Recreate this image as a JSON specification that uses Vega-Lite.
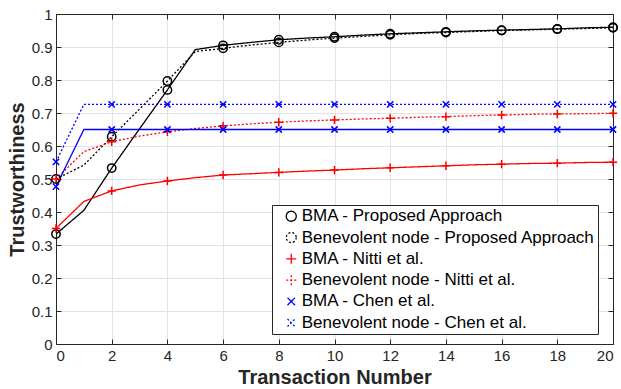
{
  "$schema": "https://vega.github.io/schema/vega-lite/v6.json",
  "width": 557,
  "height": 330,
  "autosize": "none",
  "padding": {"left": 56, "top": 14, "right": 8, "bottom": 45},
  "background": "white",
  "config": {
    "view": {"stroke": null},
    "font": "Liberation Sans",
    "axis": {
      "labelFont": "Liberation Sans",
      "titleFont": "Liberation Sans",
      "labelColor": "#262626",
      "titleColor": "#262626",
      "domainColor": "#262626",
      "tickColor": "#262626",
      "gridColor": "#e3e3e3",
      "gridWidth": 1,
      "domainWidth": 1
    },
    "legend": {
      "orient": "none", "legendX": 216, "legendY": 191,
      "labelFont": "Liberation Sans", "labelFontSize": 17, "labelColor": "#000000", "labelLimit": 400,
      "strokeColor": "#262626", "fillColor": "white", "padding": 2.75, "rowPadding": 3.3,
      "symbolSize": 100, "symbolStrokeWidth": 1.3, "symbolOffset": 8, "labelOffset": 2
    }
  },
  "data": {
    "values": [
      {"x":0,"s":"BMA - Proposed Approach","y":0.333},{"x":1,"s":"BMA - Proposed Approach","y":0.405},{"x":2,"s":"BMA - Proposed Approach","y":0.533},{"x":3,"s":"BMA - Proposed Approach","y":0.652},{"x":4,"s":"BMA - Proposed Approach","y":0.77},{"x":5,"s":"BMA - Proposed Approach","y":0.892},{"x":6,"s":"BMA - Proposed Approach","y":0.905},{"x":7,"s":"BMA - Proposed Approach","y":0.914},{"x":8,"s":"BMA - Proposed Approach","y":0.922},{"x":9,"s":"BMA - Proposed Approach","y":0.927},{"x":10,"s":"BMA - Proposed Approach","y":0.931},{"x":11,"s":"BMA - Proposed Approach","y":0.936},{"x":12,"s":"BMA - Proposed Approach","y":0.94},{"x":13,"s":"BMA - Proposed Approach","y":0.943},{"x":14,"s":"BMA - Proposed Approach","y":0.946},{"x":15,"s":"BMA - Proposed Approach","y":0.949},{"x":16,"s":"BMA - Proposed Approach","y":0.951},{"x":17,"s":"BMA - Proposed Approach","y":0.953},{"x":18,"s":"BMA - Proposed Approach","y":0.955},{"x":19,"s":"BMA - Proposed Approach","y":0.958},{"x":20,"s":"BMA - Proposed Approach","y":0.96},
      {"x":0,"s":"Benevolent node - Proposed Approach","y":0.5},{"x":1,"s":"Benevolent node - Proposed Approach","y":0.542},{"x":2,"s":"Benevolent node - Proposed Approach","y":0.628},{"x":3,"s":"Benevolent node - Proposed Approach","y":0.712},{"x":4,"s":"Benevolent node - Proposed Approach","y":0.797},{"x":5,"s":"Benevolent node - Proposed Approach","y":0.886},{"x":6,"s":"Benevolent node - Proposed Approach","y":0.896},{"x":7,"s":"Benevolent node - Proposed Approach","y":0.906},{"x":8,"s":"Benevolent node - Proposed Approach","y":0.914},{"x":9,"s":"Benevolent node - Proposed Approach","y":0.921},{"x":10,"s":"Benevolent node - Proposed Approach","y":0.927},{"x":11,"s":"Benevolent node - Proposed Approach","y":0.932},{"x":12,"s":"Benevolent node - Proposed Approach","y":0.937},{"x":13,"s":"Benevolent node - Proposed Approach","y":0.941},{"x":14,"s":"Benevolent node - Proposed Approach","y":0.944},{"x":15,"s":"Benevolent node - Proposed Approach","y":0.947},{"x":16,"s":"Benevolent node - Proposed Approach","y":0.95},{"x":17,"s":"Benevolent node - Proposed Approach","y":0.952},{"x":18,"s":"Benevolent node - Proposed Approach","y":0.954},{"x":19,"s":"Benevolent node - Proposed Approach","y":0.956},{"x":20,"s":"Benevolent node - Proposed Approach","y":0.958},
      {"x":0,"s":"BMA - Nitti et al.","y":0.35},{"x":1,"s":"BMA - Nitti et al.","y":0.432},{"x":2,"s":"BMA - Nitti et al.","y":0.464},{"x":3,"s":"BMA - Nitti et al.","y":0.482},{"x":4,"s":"BMA - Nitti et al.","y":0.494},{"x":5,"s":"BMA - Nitti et al.","y":0.504},{"x":6,"s":"BMA - Nitti et al.","y":0.512},{"x":7,"s":"BMA - Nitti et al.","y":0.516},{"x":8,"s":"BMA - Nitti et al.","y":0.52},{"x":9,"s":"BMA - Nitti et al.","y":0.524},{"x":10,"s":"BMA - Nitti et al.","y":0.527},{"x":11,"s":"BMA - Nitti et al.","y":0.531},{"x":12,"s":"BMA - Nitti et al.","y":0.534},{"x":13,"s":"BMA - Nitti et al.","y":0.537},{"x":14,"s":"BMA - Nitti et al.","y":0.54},{"x":15,"s":"BMA - Nitti et al.","y":0.543},{"x":16,"s":"BMA - Nitti et al.","y":0.545},{"x":17,"s":"BMA - Nitti et al.","y":0.547},{"x":18,"s":"BMA - Nitti et al.","y":0.548},{"x":19,"s":"BMA - Nitti et al.","y":0.55},{"x":20,"s":"BMA - Nitti et al.","y":0.551},
      {"x":0,"s":"Benevolent node - Nitti et al.","y":0.5},{"x":1,"s":"Benevolent node - Nitti et al.","y":0.583},{"x":2,"s":"Benevolent node - Nitti et al.","y":0.613},{"x":3,"s":"Benevolent node - Nitti et al.","y":0.63},{"x":4,"s":"Benevolent node - Nitti et al.","y":0.643},{"x":5,"s":"Benevolent node - Nitti et al.","y":0.653},{"x":6,"s":"Benevolent node - Nitti et al.","y":0.661},{"x":7,"s":"Benevolent node - Nitti et al.","y":0.667},{"x":8,"s":"Benevolent node - Nitti et al.","y":0.672},{"x":9,"s":"Benevolent node - Nitti et al.","y":0.676},{"x":10,"s":"Benevolent node - Nitti et al.","y":0.679},{"x":11,"s":"Benevolent node - Nitti et al.","y":0.682},{"x":12,"s":"Benevolent node - Nitti et al.","y":0.684},{"x":13,"s":"Benevolent node - Nitti et al.","y":0.687},{"x":14,"s":"Benevolent node - Nitti et al.","y":0.689},{"x":15,"s":"Benevolent node - Nitti et al.","y":0.692},{"x":16,"s":"Benevolent node - Nitti et al.","y":0.694},{"x":17,"s":"Benevolent node - Nitti et al.","y":0.696},{"x":18,"s":"Benevolent node - Nitti et al.","y":0.697},{"x":19,"s":"Benevolent node - Nitti et al.","y":0.698},{"x":20,"s":"Benevolent node - Nitti et al.","y":0.699},
      {"x":0,"s":"BMA - Chen et al.","y":0.477},{"x":1,"s":"BMA - Chen et al.","y":0.65},{"x":2,"s":"BMA - Chen et al.","y":0.65},{"x":3,"s":"BMA - Chen et al.","y":0.65},{"x":4,"s":"BMA - Chen et al.","y":0.65},{"x":5,"s":"BMA - Chen et al.","y":0.65},{"x":6,"s":"BMA - Chen et al.","y":0.65},{"x":7,"s":"BMA - Chen et al.","y":0.65},{"x":8,"s":"BMA - Chen et al.","y":0.65},{"x":9,"s":"BMA - Chen et al.","y":0.65},{"x":10,"s":"BMA - Chen et al.","y":0.65},{"x":11,"s":"BMA - Chen et al.","y":0.65},{"x":12,"s":"BMA - Chen et al.","y":0.65},{"x":13,"s":"BMA - Chen et al.","y":0.65},{"x":14,"s":"BMA - Chen et al.","y":0.65},{"x":15,"s":"BMA - Chen et al.","y":0.65},{"x":16,"s":"BMA - Chen et al.","y":0.65},{"x":17,"s":"BMA - Chen et al.","y":0.65},{"x":18,"s":"BMA - Chen et al.","y":0.65},{"x":19,"s":"BMA - Chen et al.","y":0.65},{"x":20,"s":"BMA - Chen et al.","y":0.65},
      {"x":0,"s":"Benevolent node - Chen et al.","y":0.552},{"x":1,"s":"Benevolent node - Chen et al.","y":0.726},{"x":2,"s":"Benevolent node - Chen et al.","y":0.726},{"x":3,"s":"Benevolent node - Chen et al.","y":0.726},{"x":4,"s":"Benevolent node - Chen et al.","y":0.726},{"x":5,"s":"Benevolent node - Chen et al.","y":0.726},{"x":6,"s":"Benevolent node - Chen et al.","y":0.726},{"x":7,"s":"Benevolent node - Chen et al.","y":0.726},{"x":8,"s":"Benevolent node - Chen et al.","y":0.726},{"x":9,"s":"Benevolent node - Chen et al.","y":0.726},{"x":10,"s":"Benevolent node - Chen et al.","y":0.726},{"x":11,"s":"Benevolent node - Chen et al.","y":0.726},{"x":12,"s":"Benevolent node - Chen et al.","y":0.726},{"x":13,"s":"Benevolent node - Chen et al.","y":0.726},{"x":14,"s":"Benevolent node - Chen et al.","y":0.726},{"x":15,"s":"Benevolent node - Chen et al.","y":0.726},{"x":16,"s":"Benevolent node - Chen et al.","y":0.726},{"x":17,"s":"Benevolent node - Chen et al.","y":0.726},{"x":18,"s":"Benevolent node - Chen et al.","y":0.726},{"x":19,"s":"Benevolent node - Chen et al.","y":0.726},{"x":20,"s":"Benevolent node - Chen et al.","y":0.726}
    ]
  },
  "resolve": {"axis": {"x": "independent", "y": "independent"}},
  "layer": [
    {
      "mark": {"type": "line", "strokeWidth": 1.3, "clip": true},
      "encoding": {
        "x": {"field": "x", "type": "quantitative", "scale": {"domain": [0, 20], "nice": false},
          "axis": {"orient": "bottom", "values": [0,2,4,6,8,10,12,14,16,18,20], "grid": true, "tickSize": -5, "labelPadding": 9, "labelFontSize": 15, "title": "Transaction Number", "titleFontSize": 20, "titleFontWeight": "bold", "titlePadding": 4}},
        "y": {"field": "y", "type": "quantitative", "scale": {"domain": [0, 1], "nice": false},
          "axis": {"orient": "left", "values": [0,0.1,0.2,0.3,0.4,0.5,0.6,0.7,0.8,0.9,1], "format": "~g", "grid": true, "tickSize": -5, "labelPadding": 9, "labelFontSize": 15, "title": "Trustworthiness", "titleFontSize": 20, "titleFontWeight": "bold", "titlePadding": 4}},
        "color": {"field": "s", "type": "nominal",
          "scale": {"domain": ["BMA - Proposed Approach","Benevolent node - Proposed Approach","BMA - Nitti et al.","Benevolent node - Nitti et al.","BMA - Chen et al.","Benevolent node - Chen et al."], "range": ["#000000","#000000","#ff0000","#ff0000","#0000ff","#0000ff"]},
          "legend": {"title": null}},
        "strokeDash": {"field": "s", "type": "nominal",
          "scale": {"domain": ["BMA - Proposed Approach","Benevolent node - Proposed Approach","BMA - Nitti et al.","Benevolent node - Nitti et al.","BMA - Chen et al.","Benevolent node - Chen et al."], "range": [[1,0],[2,2],[1,0],[2,2],[1,0],[2,2]]},
          "legend": null}
      }
    },
    {
      "transform": [{"filter": "datum.x % 2 == 0"}],
      "mark": {"type": "point", "filled": false, "strokeWidth": 1.5, "size": 70, "opacity": 1, "clip": false},
      "encoding": {
        "x": {"field": "x", "type": "quantitative", "scale": {"domain": [0, 20], "nice": false},
          "axis": {"orient": "top", "values": [0,2,4,6,8,10,12,14,16,18,20], "grid": false, "labels": false, "tickSize": -5, "title": null}},
        "y": {"field": "y", "type": "quantitative", "scale": {"domain": [0, 1], "nice": false},
          "axis": {"orient": "right", "values": [0,0.1,0.2,0.3,0.4,0.5,0.6,0.7,0.8,0.9,1], "grid": false, "labels": false, "tickSize": -5, "title": null}},
        "color": {"field": "s", "type": "nominal",
          "scale": {"domain": ["BMA - Proposed Approach","Benevolent node - Proposed Approach","BMA - Nitti et al.","Benevolent node - Nitti et al.","BMA - Chen et al.","Benevolent node - Chen et al."], "range": ["#000000","#000000","#ff0000","#ff0000","#0000ff","#0000ff"]},
          "legend": {"title": null}},
        "shape": {"field": "s", "type": "nominal",
          "scale": {"domain": ["BMA - Proposed Approach","Benevolent node - Proposed Approach","BMA - Nitti et al.","Benevolent node - Nitti et al.","BMA - Chen et al.","Benevolent node - Chen et al."], "range": ["circle","circle","M-1,0H1M0,-1V1","M-1,0H1M0,-1V1","M-0.75,-0.75L0.75,0.75M-0.75,0.75L0.75,-0.75","M-0.75,-0.75L0.75,0.75M-0.75,0.75L0.75,-0.75"]},
          "legend": null}
      }
    }
  ]
}
